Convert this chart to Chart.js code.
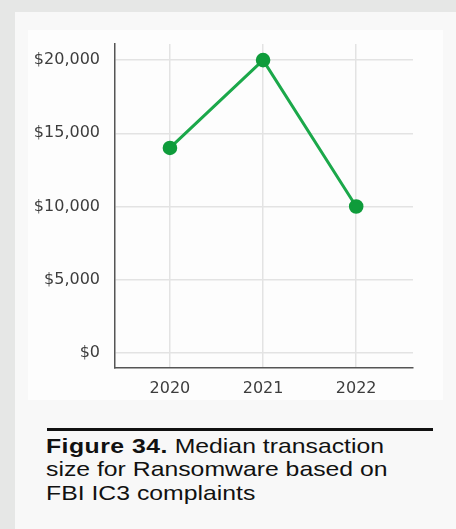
<!DOCTYPE html>
<html>
<head>
<meta charset="utf-8">
<title>Figure 34 - Median transaction size for Ransomware</title>
<script src="https://cdn.jsdelivr.net/npm/chart.js@4"></script>
<style>
  html, body { margin: 0; padding: 0; }
  body { width: 456px; height: 529px; background: #e6e7e6; position: relative; overflow: hidden; }
  #panel { position: absolute; left: 15px; top: 12px; right: 0; bottom: 0; background: #f8f8f8; }
  #chartBox { position: absolute; left: 28px; top: 30px; width: 415px; height: 370px; background: #fdfdfd; }
  #rule { position: absolute; left: 47px; top: 428px; width: 386px; height: 3px; background: #111; }
  #caption {
    position: absolute; left: 46px; top: 434px;
    font-family: "Liberation Sans", Arial, sans-serif; font-size: 21px; line-height: 23.3px;
    color: #111; white-space: nowrap;
    transform: scaleX(1.18); transform-origin: 0 0;
  }
  #caption b { font-weight: bold; letter-spacing: 0.4px; }
</style>
</head>
<body>
<div id="panel"></div>
<div id="chartBox"><canvas id="chart"></canvas></div>
<div id="rule"></div>
<div id="caption"><b>Figure 34.</b> Median transaction<br>size for Ransomware based on<br>FBI IC3 complaints</div>

<script>
// Median ransomware transaction size (FBI IC3)
const years = [2020, 2021, 2022];
const medianUsd = [14000, 20000, 10000];
const yTicks = [0, 5000, 10000, 15000, 20000];

const tickFont = { family: '"DejaVu Sans", sans-serif', size: 16 };

new Chart(document.getElementById('chart'), {
  type: 'line',
  data: {
    datasets: [{
      label: 'Median transaction size',
      data: years.map((y, i) => ({ x: y, y: medianUsd[i] })),
      borderColor: '#1ba84a',
      borderWidth: 3,
      pointBackgroundColor: '#0f9c3b',
      pointBorderColor: '#0f9c3b',
      pointRadius: 5.8,
      tension: 0
    }]
  },
  options: {
    responsive: true,
    maintainAspectRatio: false,
    animation: false,
    layout: { padding: { top: 14, right: 30, bottom: 0, left: 0 } },
    plugins: {
      legend: { display: false },
      tooltip: { enabled: false }
    },
    scales: {
      x: {
        type: 'linear',
        min: 2019.41,
        max: 2022.61,
        afterBuildTicks: axis => { axis.ticks = years.map(v => ({ value: v })); },
        afterFit: axis => { axis.height = 32; },
        grid: { color: '#e3e3e3', lineWidth: 1.5, drawTicks: false },
        border: { display: true, color: '#555', width: 1.5 },
        ticks: {
          padding: 11,
          color: '#3d3d3d',
          font: tickFont,
          callback: v => String(v)
        }
      },
      y: {
        min: -1030,
        max: 21100,
        afterBuildTicks: axis => { axis.ticks = yTicks.map(v => ({ value: v })); },
        afterFit: axis => {
          axis.width = 87;
          // labels never reach the ends of the axis, so no extra room is needed
          axis.paddingTop = 0;
          axis.paddingBottom = 0;
        },
        grid: { color: '#e3e3e3', lineWidth: 1.5, drawTicks: false },
        border: { display: true, color: '#555', width: 1.5 },
        ticks: {
          padding: 15,
          color: '#3d3d3d',
          font: tickFont,
          callback: v => '$' + v.toLocaleString('en-US')
        }
      }
    }
  }
});
</script>
</body>
</html>
